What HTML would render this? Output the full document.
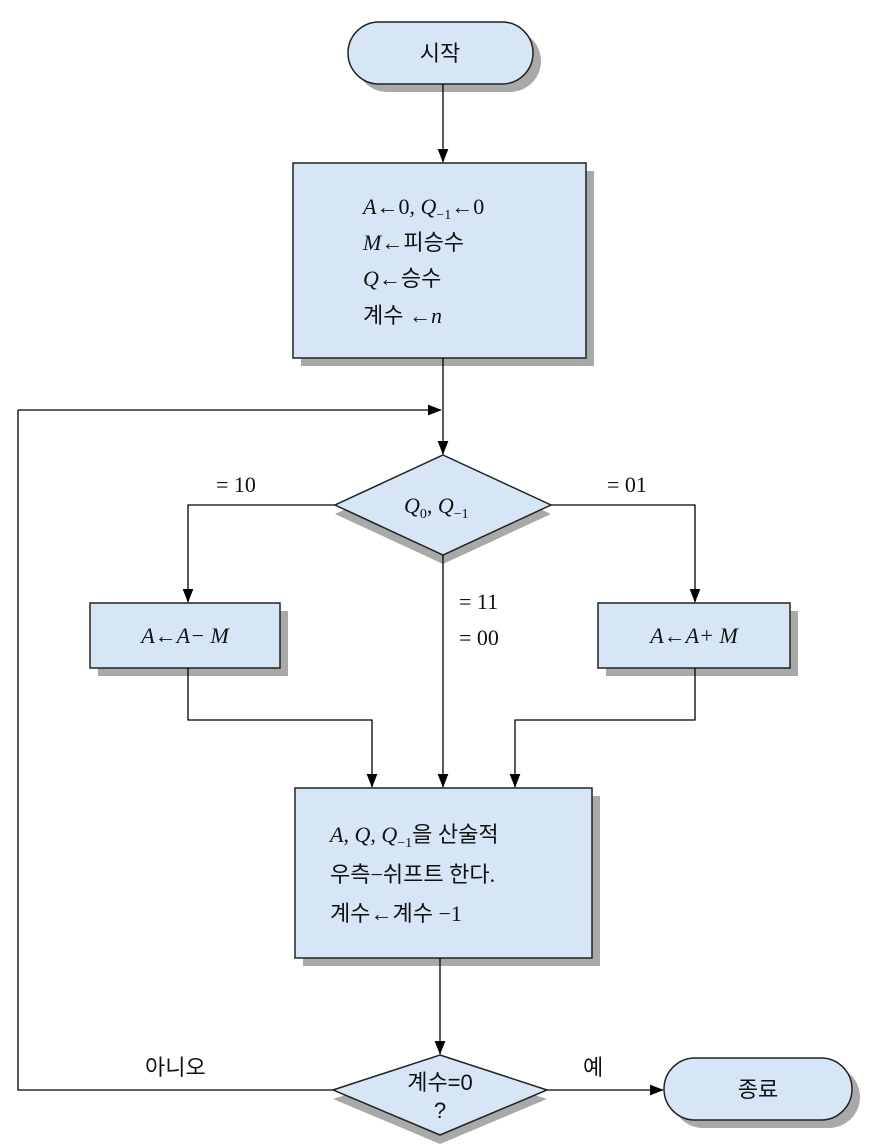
<!DOCTYPE html>
<html><head><meta charset="utf-8"><style>
html,body{margin:0;padding:0;background:#fff}
svg{display:block}
.t{font-family:"Liberation Sans","Noto Sans CJK KR",sans-serif;font-size:22px;fill:#111}
.m{font-family:"Liberation Serif","Noto Sans CJK KR",serif;font-size:22px;fill:#111}
.i{font-style:italic}
</style></head><body>
<svg width="878" height="1144" viewBox="0 0 878 1144" xmlns="http://www.w3.org/2000/svg">
<defs><marker id="a" markerWidth="10" markerHeight="10" refX="9" refY="5" orient="auto" markerUnits="userSpaceOnUse"><path d="M0,0 L10,5 L0,10z" fill="#000"/></marker>
<marker id="b" markerWidth="14" markerHeight="18" refX="17" refY="7" orient="auto" markerUnits="userSpaceOnUse" viewBox="0 0 18 14"><path d="M0,0 L18,7 L0,14z" fill="#000"/></marker></defs>
<g fill="#a9a9a9">
<rect x="356" y="30" width="185" height="62" rx="31"/>
<rect x="301" y="171" width="293" height="195"/>
<polygon points="443,464 551,514 443,564 335,514"/>
<rect x="98" y="611" width="190" height="65"/>
<rect x="606" y="611" width="192" height="65"/>
<rect x="303" y="796" width="297" height="170"/>
<polygon points="440,1064 547,1099 440,1144 333,1099"/>
<rect x="672" y="1066" width="188" height="62" rx="31"/>
</g>
<g fill="#d6e6f6" stroke="#222" stroke-width="1.5">
<rect x="348" y="22" width="185" height="62" rx="31"/>
<rect x="293" y="163" width="293" height="195"/>
<polygon points="443,455 551,505 443,555 335,505"/>
<rect x="90" y="603" width="190" height="65"/>
<rect x="598" y="603" width="192" height="65"/>
<rect x="295" y="788" width="297" height="170"/>
<polygon points="440,1055 547,1090 440,1135 333,1090"/>
<rect x="664" y="1058" width="188" height="62" rx="31"/>
</g>
<g stroke="#000" stroke-width="1.3" fill="none">
<line x1="443" y1="84" x2="443" y2="162" marker-end="url(#b)"/>
<line x1="443" y1="358" x2="443" y2="454" marker-end="url(#b)"/>
<line x1="18" y1="410" x2="441" y2="410" marker-end="url(#b)"/>
<polyline points="335,505 188,505 188,602" marker-end="url(#b)"/>
<polyline points="551,505 695,505 695,602" marker-end="url(#b)"/>
<line x1="443" y1="555" x2="443" y2="787" marker-end="url(#b)"/>
<polyline points="188,668 188,720 372,720 372,787" marker-end="url(#b)"/>
<polyline points="695,668 695,720 515,720 515,787" marker-end="url(#b)"/>
<line x1="440" y1="958" x2="440" y2="1054" marker-end="url(#b)"/>
<polyline points="333,1090 18,1090 18,410"/>
<line x1="547" y1="1090" x2="663" y2="1090" marker-end="url(#b)"/>
</g>
<text class="t" x="440" y="61" text-anchor="middle">시작</text>
<text class="m" x="363" y="214"><tspan class="i">A</tspan>←0, <tspan class="i">Q</tspan><tspan font-size="14" dy="5">−1</tspan><tspan dy="-5">←0</tspan></text>
<text class="m" x="363" y="250"><tspan class="i">M</tspan>←피승수</text>
<text class="m" x="363" y="286"><tspan class="i">Q</tspan>←승수</text>
<text class="m" x="363" y="323">계수 ←<tspan class="i">n</tspan></text>
<text class="m" x="216" y="492">= 10</text>
<text class="m" x="607" y="492">= 01</text>
<text class="m" x="404" y="513"><tspan class="i">Q</tspan><tspan font-size="14" dy="5">0</tspan><tspan dy="-5">, </tspan><tspan class="i">Q</tspan><tspan font-size="14" dy="5">−1</tspan></text>
<text class="m" x="459" y="609">= 11</text>
<text class="m" x="459" y="645">= 00</text>
<text class="m i" x="185" y="643" text-anchor="middle">A←A− M</text>
<text class="m i" x="694" y="643" text-anchor="middle">A←A+ M</text>
<text class="m" x="330" y="842"><tspan class="i">A</tspan>, <tspan class="i">Q</tspan>, <tspan class="i">Q</tspan><tspan font-size="14" dy="5">−1</tspan><tspan dy="-5">을 산술적</tspan></text>
<text class="m" x="330" y="882">우측−쉬프트 한다.</text>
<text class="m" x="330" y="921">계수←계수 −1</text>
<text class="t" x="440" y="1090" text-anchor="middle" font-size="20">계수=0</text>
<text class="t" x="440" y="1118" text-anchor="middle" font-size="20">?</text>
<text class="t" x="145" y="1075" font-size="20">아니오</text>
<text class="t" x="583" y="1075" font-size="20">예</text>
<text class="t" x="758" y="1097" text-anchor="middle">종료</text>
</svg>
</body></html>
